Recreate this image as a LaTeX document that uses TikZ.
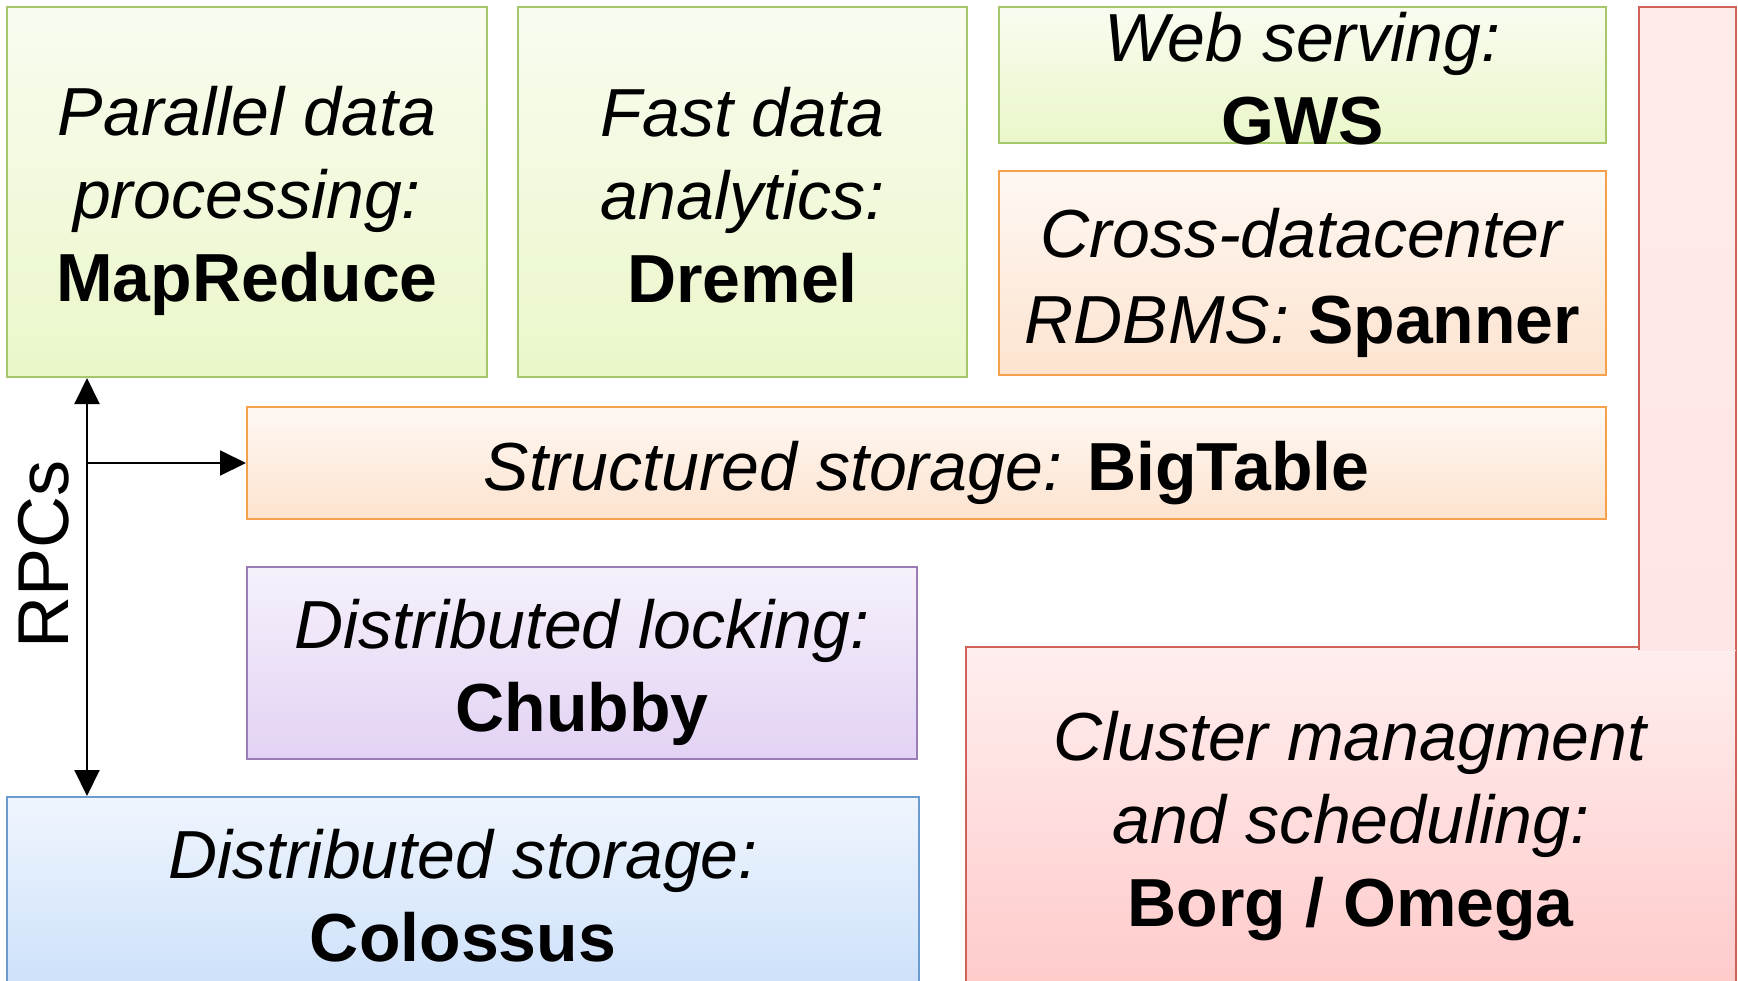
\documentclass[tikz,border=0pt]{standalone}
\usepackage{fontspec}
\setmainfont{Liberation Sans}
\usetikzlibrary{arrows.meta}
\definecolor{gS}{HTML}{A7C76B}\definecolor{gT}{HTML}{F8FCF0}\definecolor{gU}{HTML}{EAF7C9}
\definecolor{oS}{HTML}{F5A14B}\definecolor{oT}{HTML}{FEF8F3}\definecolor{oU}{HTML}{FDE3CF}
\definecolor{pS}{HTML}{9A7DB6}\definecolor{pT}{HTML}{F6F1FB}\definecolor{pU}{HTML}{E2D2F4}
\definecolor{bS}{HTML}{6C9BCF}\definecolor{bT}{HTML}{EFF5FD}\definecolor{bU}{HTML}{CCE0FA}
\definecolor{rS}{HTML}{D0625C}\definecolor{rT}{HTML}{FFEEEE}\definecolor{rU}{HTML}{FFCACA}
\definecolor{rA}{HTML}{FFEAEA}\definecolor{rB}{HTML}{FFE6E6}
\begin{document}
\begin{tikzpicture}[x=0.5pt,y=-0.5pt,
  box/.style={rectangle, draw, line width=1pt, inner sep=0pt},
  gbox/.style={box, draw=gS, top color=gT, bottom color=gU},
  obox/.style={box, draw=oS, top color=oT, bottom color=oU},
  pbox/.style={box, draw=pS, top color=pT, bottom color=pU},
  bbox/.style={box, draw=bS, top color=bT, bottom color=bU},
  rbox/.style={box, draw=rS, top color=rT, bottom color=rU},
  txt/.style={align=center, font=\fontsize{34}{41.5}\selectfont, inner sep=0pt},
  arr/.style={line width=1pt, -{Triangle[length=13pt,width=12.5pt]}},
  darr/.style={line width=1pt, {Triangle[length=13pt,width=12.5pt]}-{Triangle[length=13pt,width=12.5pt]}}]
\useasboundingbox (0,0) rectangle (1738,980);
\clip (0,0) rectangle (1738,980);
% boxes
\node[gbox, minimum width=240pt, minimum height=185pt] (mr) at (247,192) {};
\node[gbox, minimum width=224.5pt, minimum height=185pt] (dr) at (742.5,192) {};
\node[gbox, minimum width=303.5pt, minimum height=68pt] (gws) at (1302.5,75) {};
\node[obox, minimum width=303.5pt, minimum height=102pt] (sp) at (1302.5,273) {};
\node[obox, minimum width=679.5pt, minimum height=56pt] (bt) at (926.5,463) {};
\node[pbox, minimum width=335pt, minimum height=96pt] (ch) at (582,663) {};
\node[bbox, minimum width=456pt, minimum height=98pt] (co) at (463,895) {};
\node[rbox, minimum width=385pt, minimum height=173pt] (cl) at (1351,820) {};
\node[rectangle, inner sep=0pt, minimum width=48.5pt, minimum height=321.5pt, top color=rA, bottom color=rB] (clu) at (1687.5,328.5) {};
\draw[rS, line width=1pt] (clu.south west) -- (clu.north west) -- (clu.north east) -- (clu.south east);
% texts
\node[txt, yshift=-4.5pt] (mrt) at (mr) {\textit{Parallel data}\\\textit{processing:}\\\textbf{MapReduce}};
\node[txt, yshift=-1.5pt] (drt) at (dr) {\textit{Fast data}\\\textit{analytics:}\\\textbf{Dremel}};
\node[txt, yshift=-2pt] (gwst) at (gws) {\textit{Web serving:}\\\textbf{GWS}};
\node[txt, yshift=-5pt, font=\fontsize{34}{43}\selectfont] (spt) at (sp) {\textit{Cross-datacenter}\\\textit{RDBMS:} \textbf{Spanner}};
\node[txt, yshift=-5pt] (btt) at (bt) {\textit{Structured storage:} \textbf{BigTable}};
\node[txt, yshift=-4.5pt] (cht) at (ch) {\textit{Distributed locking:}\\\textbf{Chubby}};
\node[txt, yshift=-0.5pt] (cot) at (co) {\textit{Distributed storage:}\\\textbf{Colossus}};
\node[txt, yshift=-3pt] (clt) at (cl) {\textit{Cluster managment}\\\textit{and scheduling:}\\\textbf{Borg / Omega}};
% connectors
\coordinate (ax) at (87,463);
\draw[darr] (mr.south -| ax) -- (co.north -| ax);
\draw[arr] (ax) -- (bt.west);
\node[rotate=90, font=\fontsize{36}{43}\selectfont, inner sep=0pt] (rpc) at (44,554) {RPCs};
\end{tikzpicture}
\end{document}
